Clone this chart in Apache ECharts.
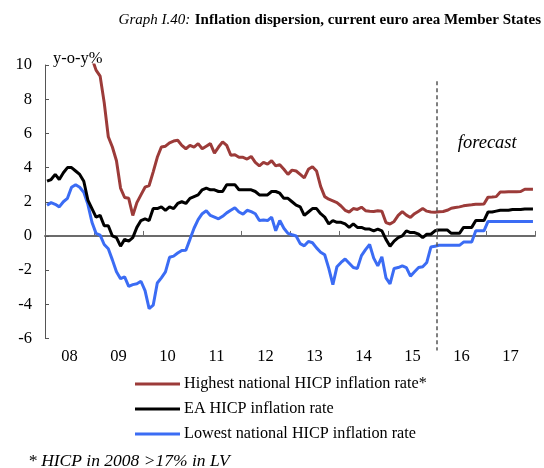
<!DOCTYPE html>
<html>
<head>
<meta charset="utf-8">
<script src="https://cdn.jsdelivr.net/npm/echarts@6/dist/echarts.min.js"></script>
<style>
  html, body { margin: 0; padding: 0; background: #ffffff; }
  #chart { width: 544px; height: 468px; }
</style>
</head>
<body>
<div id="chart"></div>
<script>
// Year labels shown under the axis (one per calendar year, 2008-2017)
const yearLabels = ['08', '09', '10', '11', '12', '13', '14', '15', '16', '17'];

// Monthly y-o-y HICP inflation, Jan 2008 - Dec 2017 (2016-2017 forecast)
const highestRate = [
  15.6, 16.7, 16.6, 17.4, 17.7, 17.5, 16.5, 15.6, 14.7, 13.7, 11.8, 10.4,
  9.7, 9.35, 7.8, 5.8, 5.2, 4.4, 2.8, 2.25, 2.2, 1.2, 1.95, 2.4,
  2.85, 2.95, 3.75, 4.6, 5.2, 5.25, 5.45, 5.55, 5.6, 5.3, 5.1, 5.3,
  5.2, 5.4, 5.1, 5.25, 5.4, 4.85, 5.2, 5.5, 5.3, 4.72, 4.75, 4.6,
  4.6, 4.5, 4.65, 4.3, 4.1, 4.3, 4.2, 4.4, 4.1, 4.17, 3.9, 3.6,
  3.85, 3.8, 3.6, 3.4, 3.9, 4.05, 3.8, 2.9, 2.3, 2.15, 2.05, 1.95,
  1.75, 1.5, 1.4, 1.6, 1.55, 1.68, 1.48, 1.45, 1.43, 1.47, 1.45, 0.78,
  0.7, 0.85, 1.2, 1.42, 1.22, 1.08, 1.3, 1.45, 1.6, 1.45, 1.4, 1.38,
  1.42, 1.43, 1.5, 1.62, 1.66, 1.7, 1.76, 1.8, 1.82, 1.85, 1.86, 1.87,
  2.27, 2.28, 2.3, 2.57, 2.57, 2.58, 2.58, 2.59, 2.6, 2.73, 2.73, 2.73
];

const eaRate = [
  3.2, 3.3, 3.6, 3.3, 3.7, 4.0, 4.0, 3.8, 3.6, 3.2, 2.1, 1.6,
  1.1, 1.2, 0.6, 0.6, 0.0, -0.1, -0.6, -0.2, -0.3, -0.1, 0.5, 0.9,
  1.0, 0.9, 1.6, 1.6, 1.7, 1.5, 1.7, 1.6, 1.9, 2.0, 1.9, 2.2,
  2.3, 2.4, 2.7, 2.8, 2.7, 2.7, 2.6, 2.6, 3.0, 3.0, 3.0, 2.7,
  2.7, 2.7, 2.7, 2.6, 2.4, 2.4, 2.4, 2.6, 2.6, 2.5, 2.2, 2.2,
  2.0, 1.8, 1.7, 1.2, 1.4, 1.6, 1.6, 1.3, 1.1, 0.7, 0.9, 0.8,
  0.8, 0.7, 0.5, 0.7, 0.5, 0.5, 0.4, 0.4, 0.3, 0.4, 0.3, -0.2,
  -0.6, -0.3, -0.1, 0.0, 0.3, 0.2, 0.2, 0.1, -0.1, 0.1, 0.1, 0.3,
  0.35, 0.35, 0.35, 0.15, 0.15, 0.15, 0.5, 0.5, 0.5, 0.9, 0.9, 0.9,
  1.4, 1.4, 1.45, 1.5, 1.5, 1.5, 1.55, 1.55, 1.55, 1.58, 1.58, 1.58
];

const lowestRate = [
  1.8, 1.95, 1.85, 1.7, 2.0, 2.2, 2.85, 3.0, 2.85, 2.55, 1.85, 0.8,
  0.15, 0.05, -0.5, -0.75, -1.4, -2.1, -2.5, -2.4, -2.95, -2.85, -2.8, -2.65,
  -3.2, -4.25, -4.05, -2.75, -2.45, -2.1, -1.25, -1.18, -1.0, -0.85, -0.84, -0.2,
  0.45, 0.95, 1.3, 1.47, 1.2, 1.1, 1.0, 1.15, 1.35, 1.5, 1.65, 1.4,
  1.28, 1.5, 1.42, 1.3, 0.9, 0.93, 0.9, 1.1, 0.3, 0.9, 0.45, 0.15,
  0.07, 0.0, -0.45, -0.58, -0.32, -0.4, -0.7, -0.95, -1.1, -1.9, -2.85, -1.8,
  -1.55, -1.35, -1.6, -1.85, -1.9, -1.15, -0.8, -0.5, -1.3, -1.75, -1.22, -2.45,
  -2.8, -1.9, -1.85, -1.75, -1.85, -2.35, -2.1, -1.85, -1.8, -1.55, -0.65, -0.6,
  -0.55, -0.55, -0.55, -0.55, -0.55, -0.55, -0.36, -0.36, -0.36, 0.3, 0.3, 0.3,
  0.85, 0.85, 0.85, 0.85, 0.85, 0.85, 0.85, 0.85, 0.85, 0.85, 0.85, 0.85
];

const seriesNames = [
  'Highest national HICP inflation rate*',
  'EA HICP inflation rate',
  'Lowest national HICP inflation rate'
];

// Month index (from Jan 2008) where the forecast period begins
const forecastStartMonth = 96;
// Where the "forecast" note sits, in [month, %] coordinates
const forecastNoteAt = [108.3, 5.45];

const SERIF = "'Liberation Serif', 'Times New Roman', Times, serif";

// Each monthly value is plotted at the middle of its month
const toPoints = arr => arr.map((v, i) => [i + 0.5, v]);

const chart = echarts.init(document.getElementById('chart'), null, { renderer: 'canvas' });

const option = {
  backgroundColor: '#ffffff',
  animation: false,
  textStyle: { fontFamily: SERIF, color: '#000' },
  title: [
    {
      text: '{i|Graph I.40:} {b|Inflation dispersion, current euro area Member States}',
      right: -2,
      top: 6,
      textStyle: {
        rich: {
          i: { fontFamily: SERIF, fontStyle: 'italic', fontWeight: 'normal', fontSize: 15, color: '#000' },
          b: { fontFamily: SERIF, fontWeight: 'bold', fontSize: 15, color: '#000' }
        }
      }
    },
    {
      text: '* HICP in 2008 >17% in LV',
      left: 23,
      top: 447,
      textStyle: { fontFamily: SERIF, fontStyle: 'italic', fontWeight: 'normal', fontSize: 17.5, color: '#000' }
    }
  ],
  grid: {
    left: 45,
    top: 65,
    width: 490,
    height: 273.5,
    containLabel: false,
    outerBoundsMode: 'none'
  },
  legend: {
    orient: 'vertical',
    left: 135,
    top: 376,
    padding: 0,
    itemWidth: 45,
    itemHeight: 3,
    itemGap: 9,
    icon: 'rect',
    selectedMode: false,
    data: seriesNames,
    textStyle: { fontFamily: SERIF, fontSize: 16.2, color: '#000', padding: [0, 0, 0, -1] }
  },
  xAxis: [
    {
      type: 'value',
      min: 0,
      max: 120,
      interval: 12,
      axisLine: { show: true, onZero: true, lineStyle: { color: '#6b6b6b', width: 2 } },
      axisTick: { show: true, inside: true, length: 5, lineStyle: { color: '#6b6b6b', width: 1 } },
      axisLabel: { show: false },
      splitLine: { show: false }
    },
    {
      type: 'category',
      position: 'bottom',
      data: yearLabels,
      boundaryGap: true,
      axisLine: { show: false, onZero: false },
      axisTick: { show: false },
      axisLabel: { margin: 10, fontFamily: SERIF, fontSize: 16.5, color: '#000' },
      splitLine: { show: false }
    }
  ],
  yAxis: {
    type: 'value',
    min: -6,
    max: 10,
    interval: 2,
    name: 'y-o-y%',
    nameLocation: 'end',
    nameGap: -2,
    nameTextStyle: {
      fontFamily: SERIF, fontSize: 16.5, color: '#000',
      align: 'left', verticalAlign: 'bottom', padding: [0, 0, 0, 8]
    },
    axisLine: { show: true, onZero: false, lineStyle: { color: '#555', width: 1 } },
    axisTick: { show: true, inside: true, length: 4, lineStyle: { color: '#555', width: 1 } },
    axisLabel: { margin: 13, fontFamily: SERIF, fontSize: 16.5, color: '#000' },
    splitLine: { show: false }
  },
  series: [
    {
      name: seriesNames[0],
      type: 'line',
      data: toPoints(highestRate),
      showSymbol: false,
      clip: true,
      color: '#9c3b39',
      lineStyle: { color: '#9c3b39', width: 3 },
      z: 3
    },
    {
      name: seriesNames[2],
      type: 'line',
      data: toPoints(lowestRate),
      showSymbol: false,
      clip: true,
      color: '#3b6cf4',
      lineStyle: { color: '#3b6cf4', width: 3 },
      z: 3
    },
    {
      name: seriesNames[1],
      type: 'line',
      data: toPoints(eaRate),
      showSymbol: false,
      clip: true,
      color: '#000000',
      lineStyle: { color: '#000000', width: 3 },
      z: 4
    }
  ]
};

chart.setOption(option);

// Forecast divider and its note, placed through the chart's own coordinate system
const toPx = p => chart.convertToPixel({ xAxisIndex: 0, yAxisIndex: 0 }, p);
const lineTop = toPx([forecastStartMonth, 9.05]);
const lineBottom = toPx([forecastStartMonth, -6.7]);
const notePos = toPx(forecastNoteAt);

chart.setOption({
  graphic: [
    {
      type: 'line',
      shape: { x1: lineTop[0], y1: lineTop[1], x2: lineBottom[0], y2: lineBottom[1] },
      style: { stroke: '#555', lineWidth: 1.5, lineDash: [4, 3] },
      z: 10
    },
    {
      type: 'text',
      x: notePos[0],
      y: notePos[1],
      style: {
        text: 'forecast',
        fill: '#000',
        font: "italic 18.5px 'Liberation Serif', 'Times New Roman', serif",
        textAlign: 'center',
        textVerticalAlign: 'middle'
      },
      z: 10
    }
  ]
});
</script>
</body>
</html>
